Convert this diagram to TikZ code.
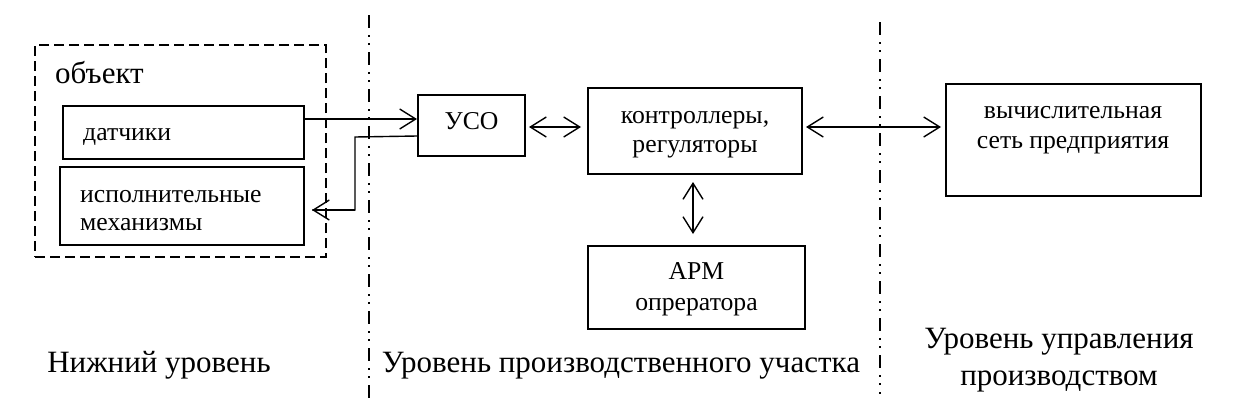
\documentclass[tikz,border=0pt]{standalone}
\usepackage{fontspec}
\setmainfont{Liberation Serif}
\usetikzlibrary{arrows.meta,calc}
\begin{document}
\begin{tikzpicture}[x=1pt,y=-1pt,
  box/.style={draw,line width=2pt,inner sep=0pt},
  boxtext/.style={font=\fontsize{25.7}{29}\selectfont,inner sep=0pt,anchor=base},
  lbl/.style={font=\fontsize{31}{37}\selectfont,inner sep=0pt,anchor=base},
  arr/.style={line width=1.4pt,{Straight Barb[length=16pt,width=20pt,line width=1.4pt]}-{Straight Barb[length=16pt,width=20pt,line width=1.4pt]}},
  arrone/.style={line width=1.4pt,-{Straight Barb[length=16pt,width=20pt,line width=1.4pt]}},
  divider/.style={line width=1.5pt,dash pattern=on 13pt off 7pt on 1.5pt off 6.5pt on 1.5pt off 7.5pt}
]
\useasboundingbox (0,0) rectangle (1248,402);
% dashed object box
\node[draw,line width=2pt,dash pattern=on 10pt off 5pt,inner sep=0pt,minimum width=291pt,minimum height=212pt] (obj) at (180.5,151) {};
\node[lbl,anchor=base west] (objl) at (55,83) {объект};
% boxes
\node[box,minimum width=241pt,minimum height=53pt] (dat) at (183.5,132.5) {};
\node[boxtext,anchor=base west] (datt) at (83,140) {датчики};
\node[box,minimum width=244pt,minimum height=78pt] (isp) at (182,206) {};
\node[boxtext,anchor=base west] (ispt1) at (80,202) {исполнительные};
\node[boxtext,anchor=base west] (ispt2) at (80,230) {механизмы};
\node[box,minimum width=107pt,minimum height=61pt] (uso) at (471.5,125.5) {};
\node[boxtext] (usot) at (471.5,129) {УСО};
\node[box,minimum width=214pt,minimum height=86pt] (kon) at (695,131) {};
\node[boxtext] (kont1) at (695,123) {контроллеры,};
\node[boxtext] (kont2) at (695,152) {регуляторы};
\node[box,minimum width=217pt,minimum height=83pt] (arm) at (696.5,287.5) {};
\node[boxtext] (armt1) at (696.5,279) {АРМ};
\node[boxtext] (armt2) at (696.5,310) {опрератора};
\node[box,minimum width=255pt,minimum height=112pt] (net) at (1073.5,140) {};
\node[boxtext] (nett1) at (1073,118) {вычислительная};
\node[boxtext] (nett2) at (1073,148) {сеть предприятия};
% dividers
\coordinate (d1t) at (369,15); \coordinate (d1b) at (369,398);
\coordinate (d2t) at (880,22); \coordinate (d2b) at (880,394);
\draw[divider] (d1t) -- (d1b);
\draw[divider] (d2t) -- (d2b);
% level labels
\node[lbl] (l1) at (159,372) {Нижний уровень};
\node[lbl] (l2) at (621,372) {Уровень производственного участка};
\node[lbl] (l3a) at (1059,348) {Уровень управления};
\node[lbl] (l3b) at (1059,385) {производством};
% connectors
\draw[arrone] ($(dat.north east)+(0,14)$) -- ($(uso.north west)+(0,25)$);
\coordinate (r1) at (355,137);
\coordinate (r2) at (355,210);
\coordinate (r3) at (312,210);
\draw[line width=1.4pt] ($(uso.north west)+(0,42)$) -- (r1) -- (r2) -- (r3);
\draw[arrone] (r2) -- (r3);
\draw[arr,shorten <=3pt,shorten >=6pt] (uso.east |- 0,127) -- (kon.west |- 0,127);
\draw[arr,shorten <=3pt,shorten >=4pt] (kon.east |- 0,127) -- (net.west |- 0,127);
\draw[arr,shorten <=8pt,shorten >=12pt] (693,174) -- (693,246);
\end{tikzpicture}
\end{document}
